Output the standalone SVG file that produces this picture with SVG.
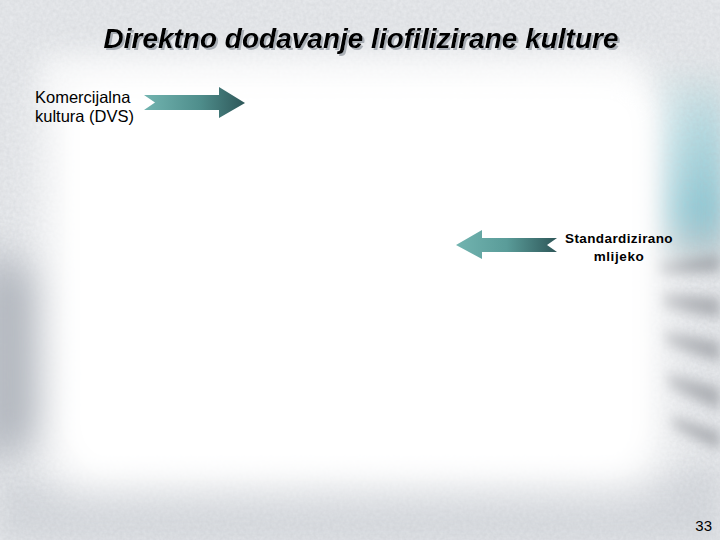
<svg xmlns="http://www.w3.org/2000/svg" width="720" height="540" viewBox="0 0 720 540">
  <defs>
    <filter id="soft" x="-30%" y="-30%" width="160%" height="160%">
      <feGaussianBlur stdDeviation="22"/>
    </filter>
    <filter id="soft2" x="-100%" y="-100%" width="300%" height="300%">
      <feGaussianBlur stdDeviation="12"/>
    </filter>
    <filter id="soft4" x="-200%" y="-100%" width="500%" height="300%">
      <feGaussianBlur stdDeviation="20"/>
    </filter>
    <filter id="soft3" x="-100%" y="-100%" width="300%" height="300%">
      <feGaussianBlur stdDeviation="6"/>
    </filter>
    <filter id="tex" x="0" y="0" width="100%" height="100%">
      <feTurbulence type="fractalNoise" baseFrequency="0.3" numOctaves="2" seed="3" result="n"/>
      <feColorMatrix in="n" type="matrix" values="0 0 0 0 0.45  0 0 0 0 0.47  0 0 0 0 0.5  0 0 0 0.3 0"/>
    </filter>
    <filter id="shadow" x="-5%" y="-30%" width="110%" height="160%">
      <feDropShadow dx="2" dy="2" stdDeviation="0.6" flood-color="#9aa0a8" flood-opacity="0.8"/>
    </filter>
    <linearGradient id="gR" x1="0" y1="0" x2="1" y2="0">
      <stop offset="0" stop-color="#72b4b0"/>
      <stop offset="0.55" stop-color="#4f8e8c"/>
      <stop offset="1" stop-color="#2e5759"/>
    </linearGradient>
    <linearGradient id="gL" x1="0" y1="0" x2="1" y2="0">
      <stop offset="0" stop-color="#72b4b0"/>
      <stop offset="0.5" stop-color="#5a9c99"/>
      <stop offset="1" stop-color="#2e5759"/>
    </linearGradient>
    <linearGradient id="teal" x1="0" y1="0" x2="0" y2="1">
      <stop offset="0" stop-color="#e2e8ea"/>
      <stop offset="0.3" stop-color="#b3dce3"/>
      <stop offset="0.75" stop-color="#86c6d3"/>
      <stop offset="1" stop-color="#c5cdd0"/>
    </linearGradient>
    <style>
      .lbl { font-family: "Liberation Sans", Arial, sans-serif; fill: #000; }
      .title { font-family: "Liberation Sans", Arial, sans-serif; font-weight: bold; font-style: italic; font-size: 28px; }
      .streak { fill: #85888e; }
    </style>
  </defs>

  <!-- background -->
  <g id="background">
    <rect x="0" y="0" width="720" height="540" fill="#e9ebee"/>
    <rect x="655" y="70" width="70" height="190" fill="url(#teal)" filter="url(#soft2)"/>
    <g filter="url(#soft3)" opacity="0.6">
      <path class="streak" d="M655 262 L720 255 L720 272 L660 275 Z"/>
      <path class="streak" d="M660 292 L720 298 L720 318 L662 308 Z"/>
      <path class="streak" d="M662 330 L720 342 L720 362 L665 345 Z"/>
      <path class="streak" d="M665 372 L720 388 L720 410 L668 388 Z"/>
      <path class="streak" d="M670 415 L720 432 L720 450 L672 428 Z"/>
    </g>
    <path d="M-20 250 L50 275 L55 435 L-20 465 Z" fill="#b0b5bd" filter="url(#soft4)"/>
    <path d="M0 480 L720 470 L720 540 L0 540 Z" fill="#d8dbe0" filter="url(#soft2)"/>
    <rect x="0" y="0" width="720" height="540" filter="url(#tex)"/>
    <rect x="45" y="70" width="620" height="420" rx="40" fill="#ffffff" filter="url(#soft)"/>
    <rect x="80" y="90" width="560" height="370" rx="30" fill="#ffffff" filter="url(#soft2)"/>
    <rect x="40" y="55" width="600" height="50" fill="#ffffff" opacity="0.55" filter="url(#soft2)"/>
  </g>

  <!-- title -->
  <g id="title">
    <text class="title" x="361" y="48" text-anchor="middle" fill="#000" filter="url(#shadow)">Direktno dodavanje liofilizirane kulture</text>
  </g>

  <!-- nodes -->
  <g id="node-komercijalna">
    <text class="lbl" font-size="16.5px" x="35" y="103">Komercijalna</text>
    <text class="lbl" font-size="16.5px" x="35" y="122">kultura (DVS)</text>
  </g>

  <g id="node-mlijeko">
    <text class="lbl" font-size="13.5px" font-weight="bold" letter-spacing="0.4" x="619" y="243" text-anchor="middle">Standardizirano</text>
    <text class="lbl" font-size="13.5px" font-weight="bold" letter-spacing="0.6" x="619" y="261" text-anchor="middle">mlijeko</text>
  </g>

  <g id="node-page">
    <text class="lbl" font-size="15px" x="712" y="531" text-anchor="end" fill="#222">33</text>
  </g>

  <!-- connectors -->
  <g id="connectors">
    <path d="M144 95 L219 95 L219 87 L245 103 L219 118 L219 110 L144 110 L155 102.5 Z" fill="url(#gR)"/>
    <path d="M456 245 L482 230 L482 238 L557 238 L547 245 L557 252 L482 252 L482 259 Z" fill="url(#gL)"/>
  </g>
</svg>
